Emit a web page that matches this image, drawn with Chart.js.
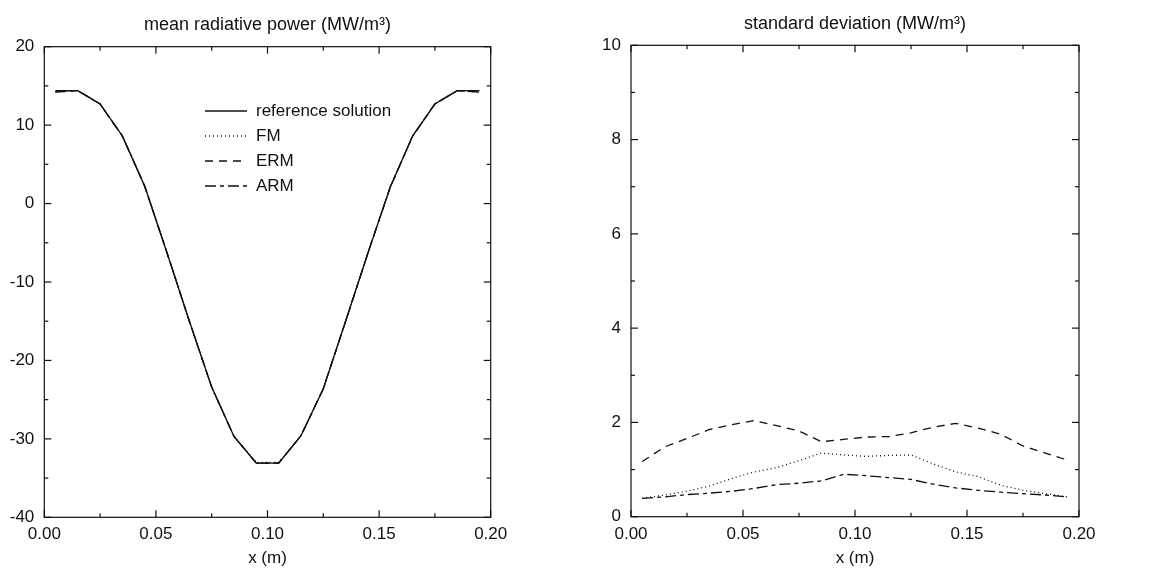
<!DOCTYPE html>
<html>
<head>
<meta charset="utf-8">
<script src="https://cdn.jsdelivr.net/npm/chart.js@4.4.1/dist/chart.umd.min.js"></script>
<style>
  body { margin: 0; background: #fff; }
  #wrap { position: relative; width: 1159px; height: 570px; }
  canvas { position: absolute; top: 0; }
  #meanChart { left: 0; }
  #stdChart { left: 580px; }
</style>
</head>
<body>
<div id="wrap">
  <canvas id="meanChart" width="580" height="570"></canvas>
  <canvas id="stdChart" width="579" height="570"></canvas>
</div>
<script>
// cell centres along the slab (m)
const xPositions = [0.005, 0.015, 0.025, 0.035, 0.045, 0.055, 0.065, 0.075, 0.085, 0.095,
                    0.105, 0.115, 0.125, 0.135, 0.145, 0.155, 0.165, 0.175, 0.185, 0.195];

// mean radiative power (MW/m3)
const meanReference = [14.4, 14.4, 12.7, 8.6, 2.2, -6.3, -15.0, -23.4, -29.7, -33.1,
                       -33.1, -29.6, -23.6, -15.0, -6.3, 2.1, 8.6, 12.7, 14.4, 14.4];
const meanFM  = [14.2, 14.4, 12.7, 8.6, 2.2, -6.3, -15.0, -23.4, -29.7, -33.0,
                 -33.0, -29.6, -23.6, -15.0, -6.3, 2.1, 8.6, 12.7, 14.4, 14.2];
const meanERM = [14.3, 14.4, 12.7, 8.6, 2.2, -6.3, -15.0, -23.4, -29.7, -33.1,
                 -33.1, -29.6, -23.6, -15.0, -6.3, 2.1, 8.6, 12.7, 14.4, 14.3];
const meanARM = [14.2, 14.4, 12.7, 8.6, 2.2, -6.3, -15.0, -23.4, -29.7, -33.1,
                 -33.1, -29.6, -23.6, -15.0, -6.3, 2.1, 8.6, 12.7, 14.4, 14.2];

// standard deviation (MW/m3)
const stdFM  = [0.39, 0.46, 0.54, 0.65, 0.81, 0.95, 1.04, 1.19, 1.35, 1.31,
                1.28, 1.30, 1.31, 1.12, 0.95, 0.85, 0.67, 0.56, 0.49, 0.42];
const stdERM = [1.17, 1.48, 1.66, 1.85, 1.95, 2.04, 1.93, 1.82, 1.59, 1.64,
                1.69, 1.70, 1.78, 1.90, 1.98, 1.88, 1.75, 1.50, 1.35, 1.20];
const stdARM = [0.39, 0.42, 0.47, 0.50, 0.54, 0.60, 0.68, 0.71, 0.76, 0.90,
                0.87, 0.83, 0.79, 0.69, 0.61, 0.56, 0.52, 0.49, 0.46, 0.42];

const seriesLabels = ["reference solution", "FM", "ERM", "ARM"];

const INK = "#111111";
const FONT = "'Liberation Sans', Arial, Helvetica, sans-serif";
Chart.defaults.font.family = FONT;
Chart.defaults.color = INK;

const DASH = {
  "reference solution": [],
  FM: [1, 3],
  ERM: [8, 6],
  ARM: [11, 4, 4, 4],
};

const toPoints = (values) => values.map((v, i) => ({ x: xPositions[i], y: v }));

const makeDataset = (label, values) => ({
  label: label,
  data: toPoints(values),
  borderColor: INK,
  borderWidth: 1.3,
  borderDash: DASH[label],
  pointRadius: 0,
  tension: 0,
  fill: false,
});

// box round the plot, inward ticks on all four sides, and the title on top
const frameTicks = {
  id: "frameTicks",
  afterDatasetsDraw(chart, args, opts) {
    const { ctx, chartArea: a, scales } = chart;
    const line = (x1, y1, x2, y2) => {
      ctx.beginPath();
      ctx.moveTo(x1, y1);
      ctx.lineTo(x2, y2);
      ctx.stroke();
    };
    const isMajor = (v, step) => Math.abs(v / step - Math.round(v / step)) < 1e-6;
    ctx.save();
    ctx.strokeStyle = INK;
    ctx.lineWidth = 1.2;
    ctx.strokeRect(a.left, a.top, a.right - a.left, a.bottom - a.top);

    const xs = scales.x;
    for (let i = 0; xs.min + i * opts.xMinor <= xs.max + 1e-9; i++) {
      const v = xs.min + i * opts.xMinor;
      const px = xs.getPixelForValue(v);
      const len = isMajor(v, opts.xMajor) ? 7 : 4;
      line(px, a.bottom, px, a.bottom - len);
      line(px, a.top, px, a.top + len);
    }
    const ys = scales.y;
    for (let i = 0; ys.min + i * opts.yMinor <= ys.max + 1e-9; i++) {
      const v = ys.min + i * opts.yMinor;
      const py = ys.getPixelForValue(v);
      const len = isMajor(v, opts.yMajor) ? 7 : 4;
      line(a.left, py, a.left + len, py);
      line(a.right, py, a.right - len, py);
    }

    ctx.fillStyle = INK;
    ctx.font = `18px ${FONT}`;
    ctx.textAlign = "center";
    ctx.textBaseline = "middle";
    ctx.fillText(opts.title, (a.left + a.right) / 2, opts.titleY);
    ctx.restore();
  },
};

// legend drawn inside the plot area, like the original figure
const insideLegend = {
  id: "insideLegend",
  afterDatasetsDraw(chart, args, opts) {
    if (!opts.show) return;
    const { ctx } = chart;
    ctx.save();
    ctx.strokeStyle = INK;
    ctx.fillStyle = INK;
    ctx.lineWidth = 1.3;
    ctx.font = `17px ${FONT}`;
    ctx.textAlign = "left";
    ctx.textBaseline = "middle";
    chart.data.datasets.forEach((ds, i) => {
      const y = opts.y + i * opts.rowGap;
      ctx.setLineDash(ds.borderDash || []);
      ctx.beginPath();
      ctx.moveTo(opts.x, y);
      ctx.lineTo(opts.x + opts.lineLength, y);
      ctx.stroke();
      ctx.setLineDash([]);
      ctx.fillText(ds.label, opts.x + opts.lineLength + opts.textGap, y);
    });
    ctx.restore();
  },
};

const buildOptions = (cfg) => ({
  responsive: false,
  animation: false,
  devicePixelRatio: 1,
  layout: { padding: { top: cfg.top, right: cfg.right, left: 0, bottom: 0 } },
  plugins: {
    legend: { display: false },
    tooltip: { enabled: false },
    title: { display: false },
    frameTicks: {
      title: cfg.title,
      titleY: cfg.titleY,
      xMajor: 0.05,
      xMinor: 0.025,
      yMajor: cfg.yStep,
      yMinor: cfg.yMinor,
    },
    insideLegend: cfg.legend || { show: false },
  },
  scales: {
    x: {
      type: "linear",
      min: 0,
      max: 0.2,
      grid: { display: false, drawTicks: false },
      border: { display: false },
      ticks: {
        stepSize: 0.05,
        padding: 7,
        maxRotation: 0,
        font: { size: 17 },
        color: INK,
        callback: (v) => v.toFixed(2),
      },
      title: {
        display: true,
        text: "x (m)",
        font: { size: 17 },
        color: INK,
        padding: { top: 0, bottom: 1 },
      },
      afterFit: (scale) => {
        scale.height = cfg.xHeight;
      },
    },
    y: {
      type: "linear",
      min: cfg.yMin,
      max: cfg.yMax,
      grid: { display: false, drawTicks: false },
      border: { display: false },
      ticks: {
        stepSize: cfg.yStep,
        padding: 10,
        font: { size: 17 },
        color: INK,
      },
      afterFit: (scale) => {
        scale.width = cfg.yWidth;
      },
    },
  },
});

new Chart(document.getElementById("meanChart"), {
  type: "line",
  data: {
    datasets: [
      makeDataset(seriesLabels[0], meanReference),
      makeDataset(seriesLabels[1], meanFM),
      makeDataset(seriesLabels[2], meanERM),
      makeDataset(seriesLabels[3], meanARM),
    ],
  },
  options: buildOptions({
    title: "mean radiative power (MW/m³)",
    titleY: 25,
    top: 46.7,
    right: 89.3,
    yWidth: 44.3,
    xHeight: 52.7,
    yMin: -40,
    yMax: 20,
    yStep: 10,
    yMinor: 5,
    legend: { show: true, x: 205, y: 111, rowGap: 25, lineLength: 42, textGap: 9 },
  }),
  plugins: [frameTicks, insideLegend],
});

new Chart(document.getElementById("stdChart"), {
  type: "line",
  data: {
    datasets: [
      makeDataset(seriesLabels[1], stdFM),
      makeDataset(seriesLabels[2], stdERM),
      makeDataset(seriesLabels[3], stdARM),
    ],
  },
  options: buildOptions({
    title: "standard deviation (MW/m³)",
    titleY: 24,
    top: 45.3,
    right: 80,
    yWidth: 51,
    xHeight: 53.3,
    yMin: 0,
    yMax: 10,
    yStep: 2,
    yMinor: 1,
  }),
  plugins: [frameTicks, insideLegend],
});
</script>
</body>
</html>
